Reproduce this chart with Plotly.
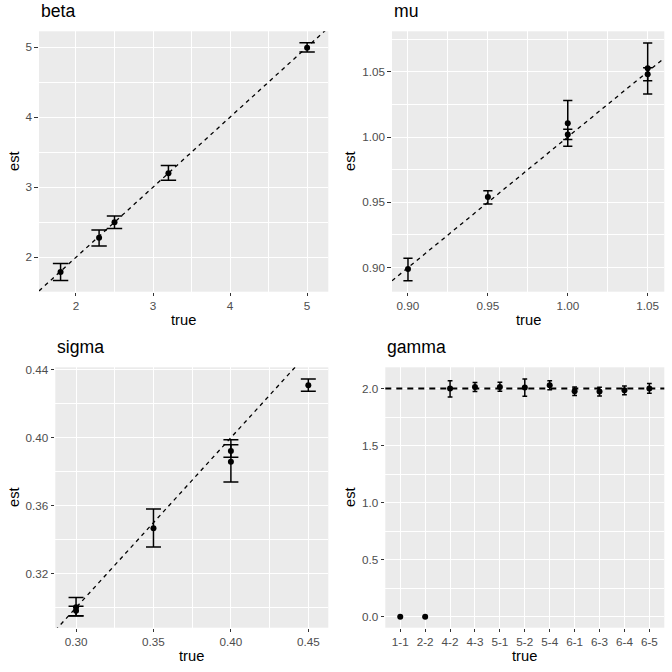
import plotly.graph_objects as go

# estimates vs true values
beta_true = [1.8, 2.3, 2.5, 3.2, 5.0]
beta_est = [1.79, 2.28, 2.50, 3.20, 4.99]
beta_lo = [1.67, 2.16, 2.41, 3.10, 4.93]
beta_hi = [1.91, 2.39, 2.59, 3.31, 5.06]

mu_true = [0.90, 0.95, 1.00, 1.00, 1.05, 1.05]
mu_est = [0.899, 0.954, 1.0105, 1.002, 1.0526, 1.048]
mu_lo = [0.890, 0.9487, 0.993, 0.998, 1.033, 1.043]
mu_hi = [0.9072, 0.9589, 1.028, 1.006, 1.072, 1.053]

sigma_true = [0.30, 0.30, 0.35, 0.40, 0.40, 0.45]
sigma_est = [0.3002, 0.2982, 0.3467, 0.3922, 0.3859, 0.4308]
sigma_lo = [0.2951, 0.2953, 0.3357, 0.3885, 0.3739, 0.4273]
sigma_hi = [0.3059, 0.3008, 0.3580, 0.3959, 0.3988, 0.4345]

gamma_cat = ['1-1', '2-2', '4-2', '4-3', '5-1', '5-2', '5-4', '6-1', '6-3', '6-4', '6-5']
gamma_est = [0.0, 0.0, 2.000, 2.015, 2.015, 2.009, 2.029, 1.977, 1.974, 1.985, 2.000]
gamma_lo = [0.0, 0.0, 1.927, 1.974, 1.977, 1.933, 1.991, 1.939, 1.936, 1.947, 1.959]
gamma_hi = [0.0, 0.0, 2.070, 2.053, 2.056, 2.085, 2.070, 2.015, 2.012, 2.023, 2.044]
gamma_ref = 2.0

W = 672
FONT = "Liberation Sans, Arial, sans-serif"

def px(v):  # pixel -> paper fraction (x)
    return min(1.0, max(0.0, v / W))

def py(v):  # pixel -> paper fraction (y, from bottom)
    return min(1.0, max(0.0, 1 - v / W))

fig = go.Figure()

def add_panel(n, x, est, lo, hi, capw):
    fig.add_trace(go.Scatter(x=x, y=est, mode='markers',
                             xaxis='x%d' % n, yaxis='y%d' % n,
                             marker=dict(color='black', size=6),
                             error_y=dict(type='data', symmetric=False,
                                          array=[h - e for h, e in zip(hi, est)],
                                          arrayminus=[e - l for e, l in zip(est, lo)],
                                          color='black', thickness=1.5, width=capw),
                             hoverinfo='x+y'))

# identity lines (drawn first so points sit above)
beta_rng = [1.52, 5.275]
mu_rng = [0.8900, 1.0604]
sigma_rng = [0.2866, 0.4629]
for n, rng in [(1, beta_rng), (2, mu_rng), (3, sigma_rng)]:
    fig.add_trace(go.Scatter(x=rng, y=rng, mode='lines', xaxis='x%d' % n, yaxis='y%d' % n,
                             line=dict(color='black', width=1.3, dash='4px,4px'),
                             hoverinfo='none'))
fig.add_shape(type='line', xref='x4 domain', yref='y4', x0=0, x1=1, y0=gamma_ref, y1=gamma_ref,
              line=dict(color='black', width=2, dash='6px,5px'), layer='above')

add_panel(1, beta_true, beta_est, beta_lo, beta_hi, 7.7)
add_panel(2, mu_true, mu_est, mu_lo, mu_hi, 4.6)
add_panel(3, sigma_true, sigma_est, sigma_lo, sigma_hi, 7.5)
add_panel(4, gamma_cat, gamma_est, gamma_lo, gamma_hi, 2.4)

# panel boxes in pixels: left, right, top, bottom
boxes = {1: (39, 328.3, 31.3, 291.7), 2: (392, 664.3, 31.3, 291.7),
         3: (55.3, 328.3, 367.3, 627.7), 4: (385.3, 664.3, 367.3, 627.7)}

tick = dict(ticks='outside', ticklen=3.7, tickwidth=1.2, tickcolor='#333333',
            tickfont=dict(family=FONT, size=11.7, color='#4D4D4D'),
            showgrid=True, gridcolor='white', gridwidth=1.4,
            zeroline=False, showline=False, automargin=False)

def minor(d, t0):
    return dict(dtick=d, tick0=t0, showgrid=True, gridcolor='white', gridwidth=0.7, ticks='')

axes = {
    1: (dict(range=beta_rng, dtick=1, tick0=0, minor=minor(0.5, 0)),
        dict(range=[1.509, 5.224], dtick=1, tick0=0, minor=minor(0.5, 0))),
    2: (dict(range=mu_rng, dtick=0.05, tick0=0, tickformat='.2f', minor=minor(0.025, 0)),
        dict(range=[0.8816, 1.0809], dtick=0.05, tick0=0, tickformat='.2f', minor=minor(0.025, 0))),
    3: (dict(range=sigma_rng, dtick=0.05, tick0=0, tickformat='.2f', minor=minor(0.025, 0)),
        dict(range=[0.2882, 0.4414], dtick=0.04, tick0=0, tickformat='.2f', minor=minor(0.02, 0))),
    4: (dict(type='category', categoryorder='array', categoryarray=gamma_cat, range=[-0.6, 10.6]),
        dict(range=[-0.0965, 2.187], dtick=0.5, tick0=0, tickformat='.1f', minor=minor(0.25, 0))),
}

layout = {}
for n, (l, r, t, b) in boxes.items():
    xa, ya = axes[n]
    xa = dict(tick, **xa)
    ya = dict(tick, **ya)
    xa.update(domain=[px(l), px(r)], anchor='y%d' % n)
    ya.update(domain=[py(b), py(t)], anchor='x%d' % n)
    key = '' if n == 1 else str(n)
    layout['xaxis' + key] = xa
    layout['yaxis' + key] = ya

titles = {1: 'beta', 2: 'mu', 3: 'sigma', 4: 'gamma'}
annotations = []
for n, (l, r, t, b) in boxes.items():
    col_left = 0 if l < 336 else 336
    annotations.append(dict(text=titles[n], x=px(l), y=py(t - 8.5), xref='paper', yref='paper',
                            xanchor='left', yanchor='bottom', showarrow=False,
                            font=dict(family=FONT, size=17.6, color='black')))
    annotations.append(dict(text='true', x=px((l + r) / 2), y=py(b + 28), xref='paper', yref='paper',
                            xanchor='center', yanchor='middle', showarrow=False,
                            font=dict(family=FONT, size=14.7, color='black')))
    annotations.append(dict(text='est', x=px(col_left + 13.5), y=py((t + b) / 2), xref='paper', yref='paper',
                            xanchor='center', yanchor='middle', showarrow=False, textangle=-90,
                            font=dict(family=FONT, size=14.7, color='black')))

fig.update_layout(width=W, height=W,
                  margin=dict(l=0, r=0, t=0, b=0),
                  paper_bgcolor='white', plot_bgcolor='#EBEBEB',
                  showlegend=False, annotations=annotations,
                  font=dict(family=FONT),
                  **layout)

# the page body has a default 8px margin; drop it so the figure fills the window
fig.write_html("out.html", config={'displayModeBar': False},
               post_script="document.body.style.margin='0px';")
